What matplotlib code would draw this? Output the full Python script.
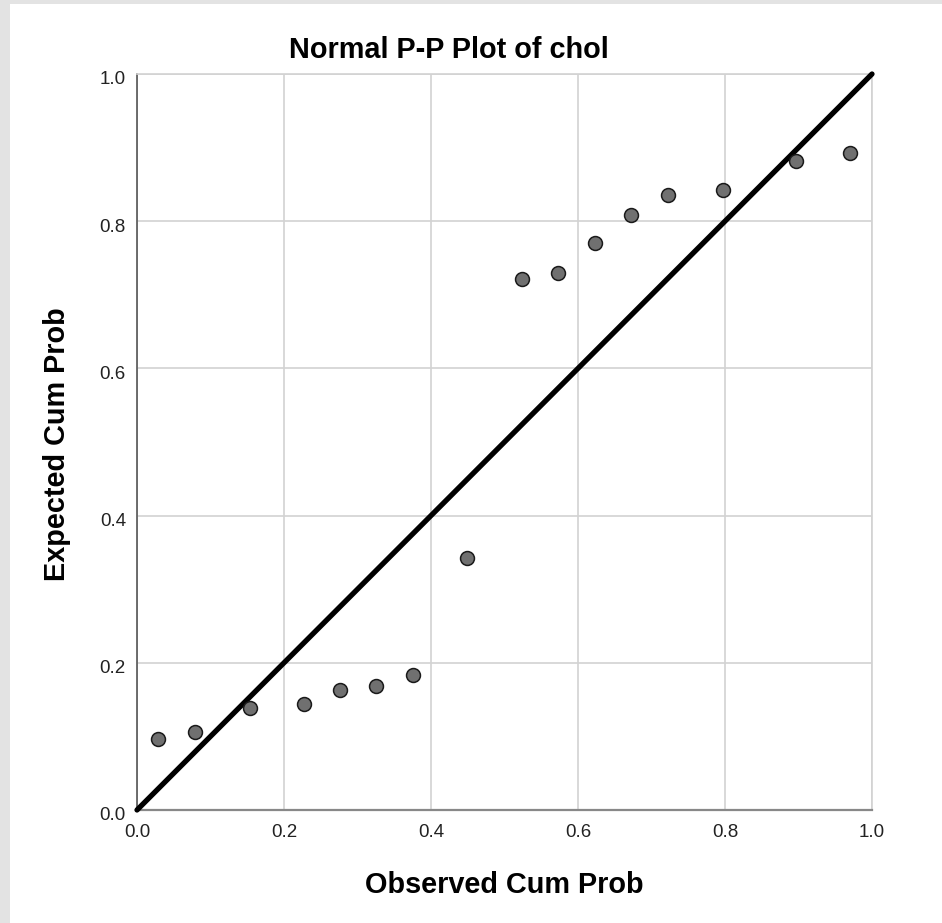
import matplotlib.pyplot as plt
import matplotlib.transforms as mtransforms
from matplotlib.patches import Rectangle

plt.rcParams["font.family"] = ["Liberation Sans", "DejaVu Sans"]

# observed vs expected cumulative probabilities
observed = [0.029, 0.079, 0.154, 0.227, 0.276, 0.325, 0.376, 0.449,
            0.524, 0.573, 0.623, 0.672, 0.722, 0.797, 0.897, 0.970]
expected = [0.097, 0.106, 0.139, 0.144, 0.163, 0.169, 0.183, 0.342,
            0.721, 0.729, 0.771, 0.808, 0.836, 0.842, 0.882, 0.892]
ref_line = [0.0, 1.0]
ticks = [0.0, 0.2, 0.4, 0.6, 0.8, 1.0]
tick_labels = ["0.0", "0.2", "0.4", "0.6", "0.8", "1.0"]

W, H = 942, 923
fig = plt.figure(figsize=(W / 100, H / 100), dpi=100, facecolor="#e3e3e3")
# white panel inside the grey frame
fig.patches.append(Rectangle((10 / W, 0), 1 - 10 / W, 1 - 4 / H,
                             transform=fig.transFigure, facecolor="white",
                             edgecolor="none", zorder=-5))

ax = fig.add_axes([137 / W, 1 - 810 / H, 735 / W, 736 / H])
ax.set_zorder(2)
ax.set_xlim(0, 1)
ax.set_ylim(0, 1)
ax.set_xticks(ticks)
ax.set_xticklabels(tick_labels)
ax.set_yticks(ticks)
ax.set_yticklabels(tick_labels)
ax.tick_params(length=0, labelsize=13.5, labelcolor="#222222")
ax.tick_params(axis="y", pad=8)
ax.tick_params(axis="x", pad=10)
# y labels sit a few pixels below their gridlines in the original
shift = mtransforms.ScaledTranslation(0, -4 / 100, fig.dpi_scale_trans)
for lbl in ax.get_yticklabels():
    lbl.set_transform(lbl.get_transform() + shift)
ax.grid(True, color="#d2d2d2", linewidth=1.2)
ax.set_axisbelow(True)

for side in ["top", "right"]:
    ax.spines[side].set_color("#d2d2d2")
    ax.spines[side].set_linewidth(1.2)
ax.spines["left"].set_color("#555555")
ax.spines["left"].set_linewidth(1.2)
ax.spines["bottom"].set_color("#888888")
ax.spines["bottom"].set_linewidth(1.6)

ax.plot(ref_line, ref_line, color="black", linewidth=3.8,
        solid_capstyle="round", clip_on=False, zorder=3)
ax.plot(observed, expected, linestyle="none", marker="o", markersize=10,
        markerfacecolor="#707070", markeredgecolor="#1a1a1a",
        markeredgewidth=1.1, zorder=4)

fig.text(449 / W, 1 - 50 / H, "Normal P-P Plot of chol", ha="center",
         va="center", fontsize=20.8, fontweight="bold")
ax.set_xlabel("Observed Cum Prob", fontsize=20.8, fontweight="bold")
ax.xaxis.set_label_coords(0.5, -(885 - 810) / 736, transform=ax.transAxes)
ax.xaxis.label.set_va("center")
ax.set_ylabel("Expected Cum Prob", fontsize=20.8, fontweight="bold")
ax.yaxis.set_label_coords(-(137 - 57) / 735, (810 - 444) / 736,
                          transform=ax.transAxes)
ax.yaxis.label.set_va("center")

fig.savefig("out.png", dpi=100, facecolor=fig.get_facecolor())
